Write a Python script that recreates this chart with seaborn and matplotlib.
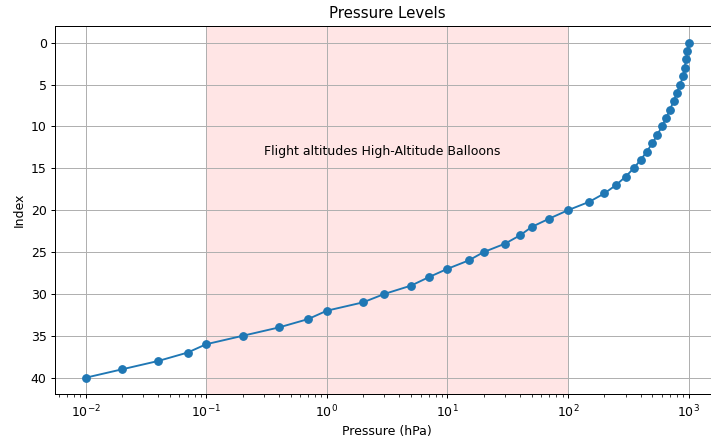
import matplotlib
matplotlib.use("Agg")
import matplotlib.pyplot as plt
import seaborn as sns
import pandas as pd

# Standard pressure levels (hPa), surface to top
pressure_hpa = [1000, 975, 950, 925, 900, 850, 800, 750, 700, 650, 600, 550,
                500, 450, 400, 350, 300, 250, 200, 150, 100, 70, 50, 40, 30,
                20, 15, 10, 7, 5, 3, 2, 1, 0.7, 0.4, 0.2, 0.1, 0.07, 0.04,
                0.02, 0.01]
level_index = list(range(len(pressure_hpa)))

# Pressure band reached by high-altitude balloons
balloon_band = (0.1, 100)
balloon_label = "Flight altitudes High-Altitude Balloons"

df = pd.DataFrame({"Pressure (hPa)": pressure_hpa, "Index": level_index})

DPI = 90
fig = plt.figure(figsize=(711 / DPI, 442 / DPI), dpi=DPI)
ax = fig.add_axes([0.078, 0.1075, 0.933, 0.834])

ax.axvspan(balloon_band[0], balloon_band[1], color="red", alpha=0.1, lw=0)
sns.lineplot(data=df, x="Pressure (hPa)", y="Index", marker="o",
             markersize=6, markeredgewidth=1, markeredgecolor="tab:blue",
             color="tab:blue", sort=False, estimator=None, ax=ax)

ax.set_xscale("log")
ax.invert_yaxis()
ax.grid(True)
ax.text(0.3, 13, balloon_label, ha="left", va="center", fontsize=10)
ax.set_title("Pressure Levels")
ax.set_xlabel("Pressure (hPa)")
ax.set_ylabel("Index")

fig.savefig("out.png", dpi=DPI)
